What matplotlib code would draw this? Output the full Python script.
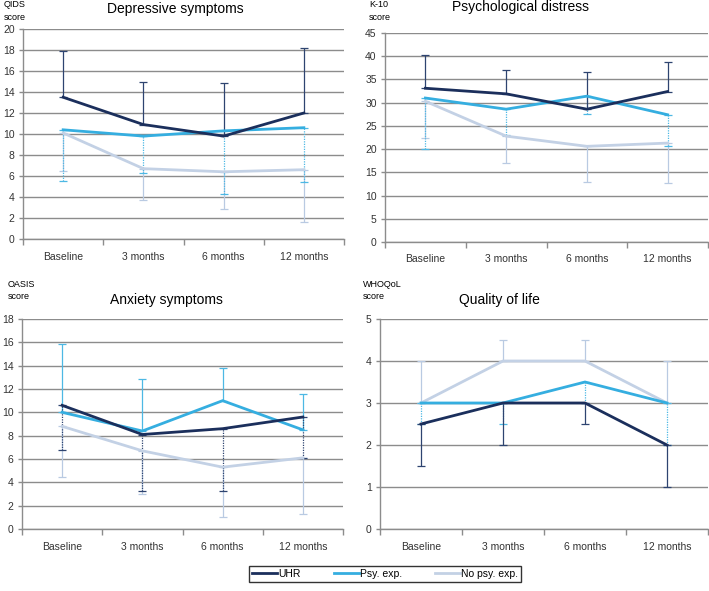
import matplotlib
matplotlib.use('Agg')
import matplotlib.pyplot as plt
import numpy as np

plt.rcParams['font.family'] = ['Liberation Sans', 'DejaVu Sans']

categories = ['Baseline', '3 months', '6 months', '12 months']
groups = ['UHR', 'Psy. exp.', 'No psy. exp.']

# QIDS - depressive symptoms (mean, one-sided SD)
qids_uhr = [13.5, 10.9, 9.8, 12.0]
qids_uhr_sd = [4.4, 4.1, 5.1, 6.2]
qids_psy = [10.4, 9.8, 10.3, 10.6]
qids_psy_sd = [4.9, 3.5, 6.0, 5.2]
qids_nopsy = [10.1, 6.7, 6.4, 6.6]
qids_nopsy_sd = [3.6, 3.0, 3.5, 5.0]

# K-10 - psychological distress
k10_uhr = [33.1, 31.9, 28.6, 32.4]
k10_uhr_sd = [7.2, 5.1, 7.9, 6.4]
k10_psy = [31.0, 28.6, 31.4, 27.4]
k10_psy_sd = [11.0, 5.6, 3.9, 6.7]
k10_nopsy = [30.3, 22.8, 20.6, 21.3]
k10_nopsy_sd = [7.8, 5.8, 7.6, 8.5]

# OASIS - anxiety symptoms
oasis_uhr = [10.6, 8.1, 8.6, 9.6]
oasis_uhr_sd = [3.8, 4.8, 5.3, 3.5]
oasis_psy = [10.0, 8.4, 11.0, 8.5]
oasis_psy_sd = [5.9, 4.5, 2.8, 3.1]
oasis_nopsy = [8.8, 6.7, 5.3, 6.1]
oasis_nopsy_sd = [4.3, 3.7, 4.3, 4.8]

# WHOQoL - quality of life
qol_uhr = [2.5, 3.0, 3.0, 2.0]
qol_uhr_sd = [1.0, 1.0, 0.5, 1.0]
qol_psy = [3.0, 3.0, 3.5, 3.0]
qol_psy_sd = [0.5, 0.5, 0.5, 1.0]
qol_nopsy = [3.0, 4.0, 4.0, 3.0]
qol_nopsy_sd = [1.0, 0.5, 0.5, 1.0]

line_colors = ['#1B2F5C', '#35AEE0', '#C3D1E5']
bar_colors = ['#2E4470', '#4DB8E4', '#B9CAE2']
grid_col = '#8C8C8C'

W, H = 709, 591
fig = plt.figure(figsize=(W / 100, H / 100), dpi=100)


def make_ax(x0, y0, x1, y1):
    return fig.add_axes([x0 / W, (H - y1) / H, (x1 - x0) / W, (y1 - y0) / H])


def draw_panel(ax, series, sds, dirs, styles, ymax, ystep, title, ylab, title_xy, ylab_xy):
    x = np.arange(len(categories))
    # error bars first, then lines (order: no psy, psy, UHR)
    for i in [2, 1, 0]:
        sd = np.array(sds[i])
        zero = np.zeros_like(sd)
        yerr = [zero, sd] if dirs[i] == 'up' else [sd, zero]
        eb = ax.errorbar(x, series[i], yerr=yerr, fmt='none', ecolor=bar_colors[i],
                         elinewidth=0.9, capsize=3, capthick=0.9, zorder=3)
        if styles[i] == 'dot':
            eb[2][0].set_linestyle((0, (1, 1)))
    for i in [2, 1, 0]:
        ax.plot(x, series[i], color=line_colors[i], lw=2, zorder=4,
                solid_joinstyle='miter')
    ax.set_xlim(-0.5, len(categories) - 0.5)
    ax.set_ylim(0, ymax)
    ax.set_yticks(np.arange(0, ymax + ystep / 2, ystep))
    ax.yaxis.grid(True, color=grid_col, lw=1)
    ax.set_axisbelow(True)
    ax.set_xticks(np.arange(-0.5, len(categories), 1.0))
    ax.set_xticklabels([])
    ax.set_xticks(x, minor=True)
    ax.set_xticklabels(categories, minor=True)
    ax.tick_params(axis='x', which='major', length=4, color=grid_col, width=1)
    ax.tick_params(axis='x', which='minor', length=0, pad=9, labelsize=7.5, labelcolor='#333333')
    ax.tick_params(axis='y', length=3, color=grid_col, width=1, pad=3, labelsize=7.5, labelcolor='#333333')
    for s in ['top', 'right']:
        ax.spines[s].set_visible(False)
    for s in ['left', 'bottom']:
        ax.spines[s].set_color(grid_col)
        ax.spines[s].set_linewidth(1)
    fig.text(title_xy[0] / W, 1 - title_xy[1] / H, title, ha='center', va='center', fontsize=10)
    fig.text(ylab_xy[0] / W, 1 - ylab_xy[1] / H, ylab, ha='left', va='top', fontsize=6.5,
             linespacing=1.5)


ax1 = make_ax(23, 29, 344, 239)
draw_panel(ax1, [qids_uhr, qids_psy, qids_nopsy], [qids_uhr_sd, qids_psy_sd, qids_nopsy_sd],
           ['up', 'down', 'down'], ['solid', 'dot', 'solid'], 20, 2,
           'Depressive symptoms', 'QIDS\nscore', (175, 9), (4, 0))

ax2 = make_ax(385, 33, 708, 242)
draw_panel(ax2, [k10_uhr, k10_psy, k10_nopsy], [k10_uhr_sd, k10_psy_sd, k10_nopsy_sd],
           ['up', 'down', 'down'], ['solid', 'dot', 'solid'], 45, 5,
           'Psychological distress', 'K-10\nscore', (521, 7), (369, 0))

ax3 = make_ax(22, 319, 343, 529)
draw_panel(ax3, [oasis_uhr, oasis_psy, oasis_nopsy], [oasis_uhr_sd, oasis_psy_sd, oasis_nopsy_sd],
           ['down', 'up', 'down'], ['dot', 'solid', 'solid'], 18, 2,
           'Anxiety symptoms', 'OASIS\nscore', (166, 300), (8, 280))

ax4 = make_ax(380, 319, 708, 529)
draw_panel(ax4, [qol_uhr, qol_psy, qol_nopsy], [qol_uhr_sd, qol_psy_sd, qol_nopsy_sd],
           ['down', 'down', 'up'], ['solid', 'dot', 'solid'], 5, 1,
           'Quality of life', 'WHOQoL\nscore', (499, 300), (363, 280))

handles = [plt.Line2D([], [], color=c, lw=2) for c in line_colors]
leg = fig.legend(handles, groups, loc='center', bbox_to_anchor=(385 / W, 1 - 574 / H),
                 ncol=3, fontsize=7.5, frameon=True, fancybox=False, handlelength=2.4,
                 handletextpad=0.1, columnspacing=3.2, borderpad=0.25)
leg.get_frame().set_edgecolor('#000000')
leg.get_frame().set_linewidth(1)

fig.savefig('out.png', dpi=100)
